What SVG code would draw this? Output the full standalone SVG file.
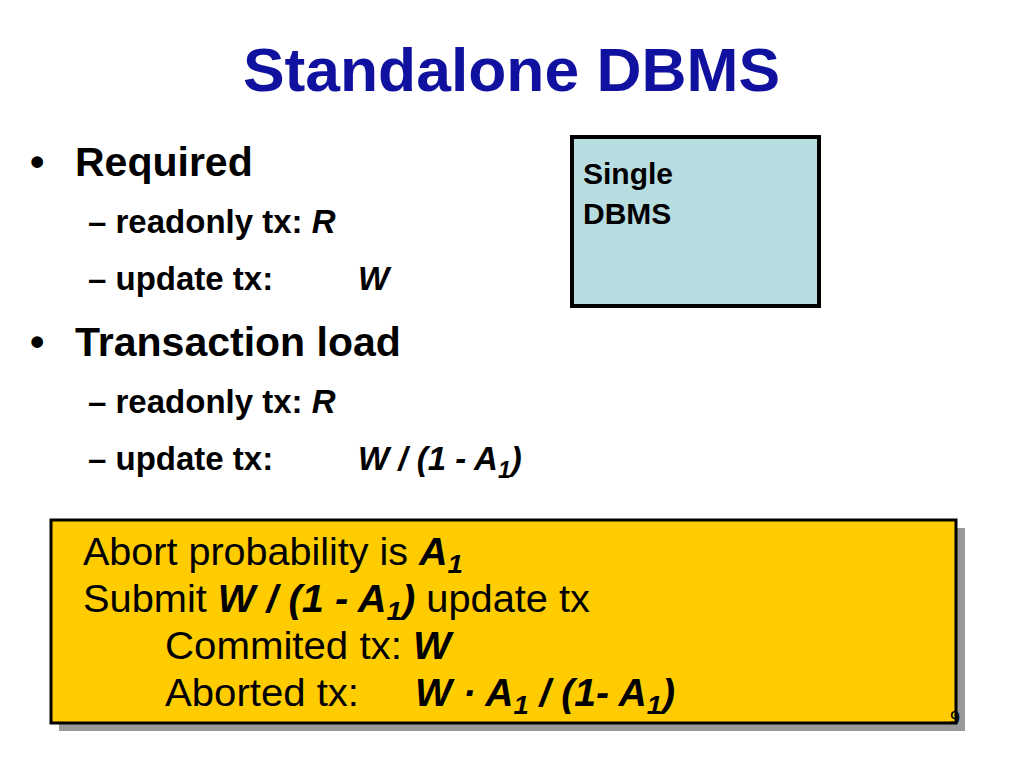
<svg xmlns="http://www.w3.org/2000/svg" width="1024" height="768" viewBox="0 0 1024 768">
<style>
text{font-family:"Liberation Sans",Arial,sans-serif;fill:#000}
.t{font-weight:bold;font-size:62px;fill:#1111a0}
.l1{font-weight:bold;font-size:41px}
.l2{font-weight:bold;font-size:33px}
.y{font-size:38px}
.bi{font-weight:bold;font-style:italic}
.sub{font-size:70%}
</style>
<rect width="1024" height="768" fill="#fff"/>
<text class="t" x="243" y="91" textLength="537" lengthAdjust="spacingAndGlyphs">Standalone DBMS</text>
<g id="bullets">
<text class="l1" x="30" y="176">•</text>
<text class="l1" x="75" y="176">Required</text>
<text class="l2" x="88" y="233">– readonly tx: <tspan font-style="italic">R</tspan></text>
<text class="l2" x="88" y="290">– update tx:</text>
<text class="l2" x="358" y="290" font-style="italic">W</text>
<text class="l1" x="30" y="356">•</text>
<text class="l1" x="75" y="356">Transaction load</text>
<text class="l2" x="88" y="413">– readonly tx: <tspan font-style="italic">R</tspan></text>
<text class="l2" x="88" y="470">– update tx:</text>
<text class="l2" x="358" y="470" font-style="italic">W / (1 - A<tspan class="sub" dy="8">1</tspan><tspan dy="-8">)</tspan></text>
</g>
<g id="single-dbms">
<rect x="572" y="137" width="247" height="169" fill="#b8dde0" stroke="#000" stroke-width="4"/>
<text x="583" y="184" font-weight="bold" font-size="30">Single</text>
<text x="583" y="224" font-weight="bold" font-size="30">DBMS</text>
</g>
<g id="abort-box">
<rect x="59" y="528" width="906" height="203" fill="#999"/>
<rect x="51" y="520" width="905" height="203" fill="#ffcc00" stroke="#000" stroke-width="3"/>
<text class="y" x="83" y="565" textLength="380" lengthAdjust="spacingAndGlyphs">Abort probability is <tspan class="bi">A</tspan><tspan class="bi sub" dy="8">1</tspan></text>
<text class="y" x="83" y="612" textLength="507" lengthAdjust="spacingAndGlyphs">Submit <tspan class="bi">W / (1 - A</tspan><tspan class="bi sub" dy="8">1</tspan><tspan class="bi" dy="-8">)</tspan> update tx</text>
<text class="y" x="165" y="659" textLength="286" lengthAdjust="spacingAndGlyphs">Commited tx: <tspan class="bi">W</tspan></text>
<text class="y" x="165" y="706" textLength="194" lengthAdjust="spacingAndGlyphs">Aborted tx:</text>
<text class="y" x="415" y="706" textLength="260" lengthAdjust="spacingAndGlyphs"><tspan class="bi">W · A</tspan><tspan class="bi sub" dy="8">1</tspan><tspan class="bi" dy="-8"> / (1- A</tspan><tspan class="bi sub" dy="8">1</tspan><tspan class="bi" dy="-8">)</tspan></text>
</g>
<text x="950" y="724" font-size="18" fill="#555">9</text>
</svg>
